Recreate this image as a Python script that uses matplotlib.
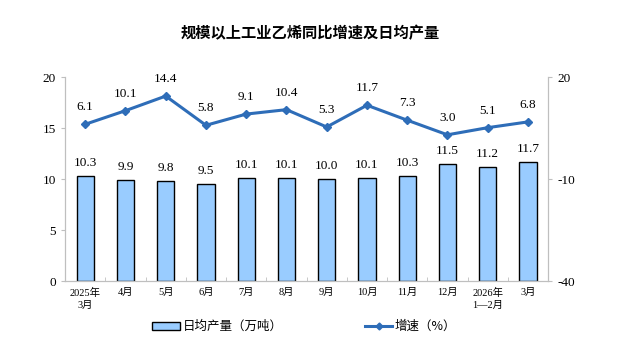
import numpy as np
import matplotlib.pyplot as plt
from matplotlib.lines import Line2D
from matplotlib.patches import Patch

plt.rcParams['font.family'] = ['Liberation Serif', 'Noto Sans CJK SC']
plt.rcParams['axes.unicode_minus'] = False

months = ['2025年\n3月', '4月', '5月', '6月', '7月', '8月', '9月', '10月',
          '11月', '12月', '2026年\n1—2月', '3月']
output = [10.3, 9.9, 9.8, 9.5, 10.1, 10.1, 10.0, 10.1, 10.3, 11.5, 11.2, 11.7]
growth = [6.1, 10.1, 14.4, 5.8, 9.1, 10.4, 5.3, 11.7, 7.3, 3.0, 5.1, 6.8]

bar_color = '#99CCFF'
line_color = '#2E6DB8'
axis_gray = '#BFBFBF'

fig = plt.figure(figsize=(6.2, 3.52), dpi=100)
ax = fig.add_axes([0.105, 0.2017, 0.779, 0.5795])
x = np.arange(len(months))

ax.bar(x, output, width=0.43, color=bar_color, edgecolor='black', linewidth=1.0, zorder=2)
for xi, v in zip(x, output):
    ax.annotate('%.1f' % v, (xi, v), xytext=(0, 5), textcoords='offset points',
                ha='center', va='bottom', fontsize=9.5)

ax.set_xlim(-0.5, len(months) - 0.5)
ax.set_ylim(0, 20)
ax.set_yticks([0, 5, 10, 15, 20])
ax.set_xticks(x)
ax.set_xticklabels(months, fontsize=7.5, linespacing=1.4)
ax.set_xticks(np.arange(len(months) + 1) - 0.5, minor=True)
ax.tick_params(axis='x', which='major', length=0, pad=5)
ax.tick_params(axis='x', which='minor', length=3, direction='in', color=axis_gray)
ax.tick_params(axis='y', labelsize=9.5, length=3, color=axis_gray)

ax2 = ax.twinx()
ax2.plot(x, growth, color=line_color, linewidth=2.2, marker='D', markersize=4.5, zorder=3)
for xi, v in zip(x, growth):
    ax2.annotate('%.1f' % v, (xi, v), xytext=(0, 8), textcoords='offset points',
                 ha='center', va='bottom', fontsize=9.5)
ax2.set_ylim(-40, 20)
ax2.set_yticks([-40, -10, 20])
ax2.tick_params(axis='y', labelsize=9.5, length=3, color=axis_gray)

for a in (ax, ax2):
    a.spines['top'].set_visible(False)
    for s in ('left', 'right', 'bottom'):
        a.spines[s].set_color(axis_gray)

fig.text(0.5, 0.905, '规模以上工业乙烯同比增速及日均产量', ha='center', va='center',
         fontsize=11, fontweight='bold', family=['Noto Sans CJK SC'])

handles = [Patch(facecolor=bar_color, edgecolor='black', linewidth=1.0),
           Line2D([0], [0], color=line_color, linewidth=2.2, marker='D', markersize=3.5)]
fig.legend(handles, ['日均产量（万吨）', '增速（%）'], loc='center',
           bbox_to_anchor=(0.491, 0.072), ncol=2, frameon=False,
           columnspacing=6.6, handlelength=2.2, handleheight=0.6, handletextpad=0.2,
           prop={'family': ['Noto Sans CJK SC'], 'size': 9})

fig.savefig('out.png', dpi=100)
